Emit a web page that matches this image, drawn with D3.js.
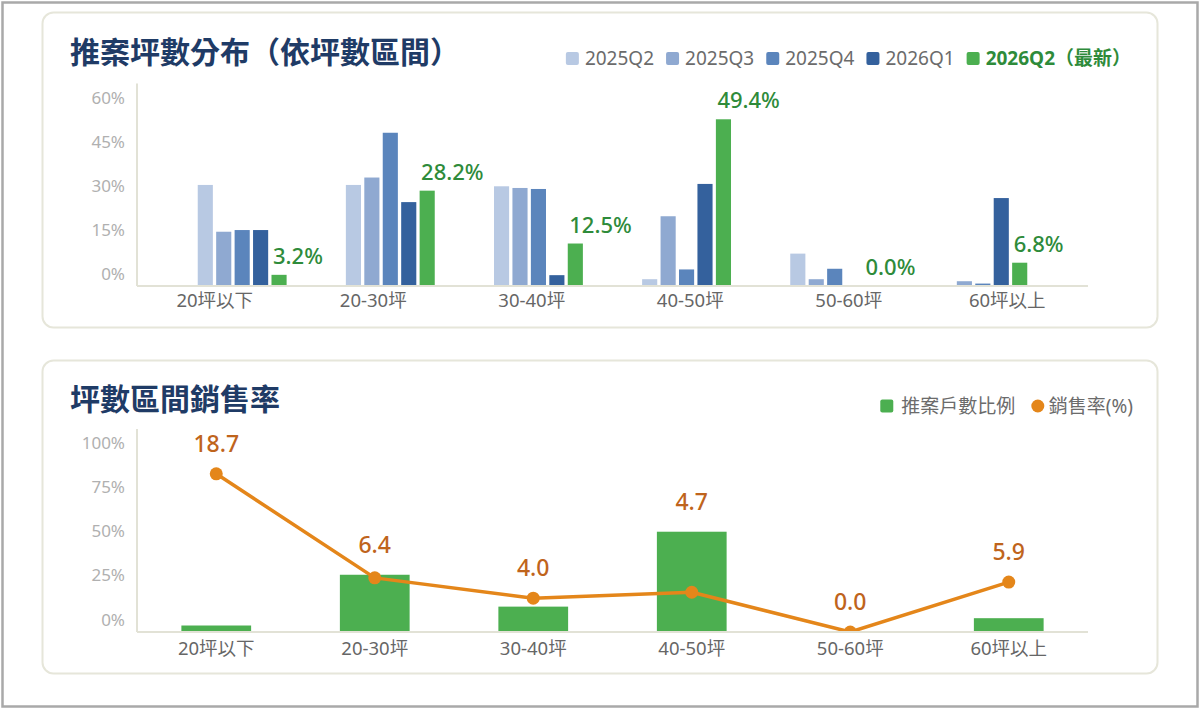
<!DOCTYPE html>
<html>
<head>
<meta charset="utf-8">
<script src="https://cdn.jsdelivr.net/npm/d3@7"></script>
<style>
  body { margin: 0; background: #fff; }
  text { font-family: "Noto Sans", "Noto Sans CJK TC", sans-serif; }
</style>
</head>
<body>
<div id="chart"></div>
<script>
// categories and series
const categories = ["20坪以下", "20-30坪", "30-40坪", "40-50坪", "50-60坪", "60坪以上"];
const seriesNames = ["2025Q2", "2025Q3", "2025Q4", "2026Q1", "2026Q2（最新）"];
const share2025Q2 = [29.9, 29.9, 29.5, 1.9, 9.5, 0.0];
const share2025Q3 = [16.0, 32.1, 29.0, 20.6, 1.9, 1.3];
const share2025Q4 = [16.5, 45.4, 28.7, 4.8, 5.0, 0.6];
const share2026Q1 = [16.5, 24.8, 3.1, 30.2, 0.0, 26.0];
const share2026Q2 = [3.2, 28.2, 12.5, 49.4, 0.0, 6.8];
const salesRate = [18.7, 6.4, 4.0, 4.7, 0.0, 5.9];
const topTicks = ["60%", "45%", "30%", "15%", "0%"];
const bottomTicks = ["100%", "75%", "50%", "25%", "0%"];

const seriesValues = [share2025Q2, share2025Q3, share2025Q4, share2026Q1, share2026Q2];
const seriesColors = ["#b8c9e3", "#8fa9d1", "#5b85bc", "#34619d", "#4caf50"];

const width = 1200, height = 709;
const svg = d3.select("#chart").append("svg")
  .attr("width", width).attr("height", height);

// outer frame + two cards
svg.append("rect")
  .attr("x", 2.5).attr("y", 2.5).attr("width", width - 5).attr("height", height - 5)
  .attr("fill", "#fff").attr("stroke", "#a9a9a9").attr("stroke-width", 2.5);

function card(y, h) {
  svg.append("rect")
    .attr("x", 42.5).attr("y", y).attr("width", 1115).attr("height", h)
    .attr("rx", 11).attr("fill", "#fff")
    .attr("stroke", "#e6e6da").attr("stroke-width", 2);
}
card(12.5, 315);
card(360.5, 313);

const titleColor = "#1f3b66";
const plotLeft = 137, plotRight = 1088;

////////////////////////////////////////////////////////////////////////
// Top chart: grouped bars

svg.append("text")
  .attr("x", 70).attr("y", 51)
  .attr("dominant-baseline", "central")
  .attr("font-size", 30).attr("font-weight", 700)
  .attr("fill", titleColor)
  .text("推案坪數分布（依坪數區間）");

const topY = { y0: 285.6, y1: 83.6 };

let xLabel = d3.scaleBand().domain(categories).range([plotLeft, plotRight]);
let xGroup = d3.scaleBand().domain(categories).range([plotLeft, plotRight])
  .paddingInner(0.4).paddingOuter(0.41);
let xSeries = d3.scaleBand().domain(seriesNames).range([0, xGroup.bandwidth()])
  .paddingInner(0.18);
let yTop = d3.scaleLinear().domain([0, 60]).range([topY.y0, topY.y1]);
let yTopLabels = d3.scalePoint().domain(topTicks).range([97, 273]);

let g1 = svg.append("g");

seriesNames.forEach((name, si) => {
  g1.append("g")
    .selectAll("rect")
    .data(categories)
    .enter()
    .append("rect")
    .attr("x", (c) => xGroup(c) + xSeries(name))
    .attr("y", (c, i) => yTop(seriesValues[si][i]))
    .attr("width", xSeries.bandwidth())
    .attr("height", (c, i) => topY.y0 - yTop(seriesValues[si][i]))
    .attr("fill", seriesColors[si]);
});

// value labels for the latest quarter
g1.append("g")
  .selectAll("text")
  .data(categories)
  .enter()
  .append("text")
  .attr("x", (c) => xGroup(c) + xSeries(seriesNames[4]) + 1.5)
  .attr("y", (c, i) => yTop(share2026Q2[i]) - 20)
  .attr("dominant-baseline", "central")
  .attr("font-size", 22).attr("font-weight", 500)
  .attr("fill", "#2e8b3a")
  .text((c, i) => share2026Q2[i].toFixed(1) + "%");

// axes
g1.append("line")
  .attr("x1", plotLeft).attr("x2", plotLeft)
  .attr("y1", topY.y1).attr("y2", 286)
  .attr("stroke", "#e2e2d6").attr("stroke-width", 2);
g1.append("line")
  .attr("x1", plotLeft).attr("x2", plotRight)
  .attr("y1", 286).attr("y2", 286)
  .attr("stroke", "#e2e2d6").attr("stroke-width", 2);

g1.append("g")
  .selectAll("text")
  .data(topTicks)
  .enter()
  .append("text")
  .attr("x", 125).attr("y", (d) => yTopLabels(d))
  .attr("text-anchor", "end").attr("dominant-baseline", "central")
  .attr("font-size", 17).attr("fill", "#b0b0b0")
  .text((d) => d);

g1.append("g")
  .selectAll("text")
  .data(categories)
  .enter()
  .append("text")
  .attr("x", (c) => xLabel(c) + xLabel.bandwidth() / 2 - 1.5)
  .attr("y", 299)
  .attr("text-anchor", "middle").attr("dominant-baseline", "central")
  .attr("font-size", 18.5).attr("fill", "#666")
  .text((c) => c);

// legend, right aligned
let legend1 = svg.append("g");
let lx = 1131;
for (let i = seriesNames.length - 1; i >= 0; i--) {
  let latest = i === seriesNames.length - 1;
  let t = legend1.append("text")
    .attr("y", 58).attr("dominant-baseline", "central")
    .attr("font-size", 19)
    .attr("font-weight", latest ? 700 : 400)
    .attr("fill", latest ? "#2e8b3a" : "#6b6b6b")
    .text(seriesNames[i]);
  let tw = t.node().getComputedTextLength();
  t.attr("x", lx - tw);
  legend1.append("rect")
    .attr("x", lx - tw - 19).attr("y", 52)
    .attr("width", 13).attr("height", 13).attr("rx", 2)
    .attr("fill", seriesColors[i]);
  lx = lx - tw - 19 - 12;
}

////////////////////////////////////////////////////////////////////////
// Bottom chart: bars + sales-rate line

svg.append("text")
  .attr("x", 70).attr("y", 398)
  .attr("dominant-baseline", "central")
  .attr("font-size", 30).attr("font-weight", 700)
  .attr("fill", titleColor)
  .text("坪數區間銷售率");

const botY = { y0: 632, y1: 429 };
let xBot = d3.scaleBand().domain(categories).range([plotLeft, plotRight])
  .paddingInner(0.56).paddingOuter(0.28);
let yBot = d3.scaleLinear().domain([0, 100]).range([botY.y0, botY.y1]);
let yRate = d3.scaleLinear().domain([0, 24]).range([botY.y0, botY.y1]);
let yBotLabels = d3.scalePoint().domain(bottomTicks).range([442, 619]);

let g2 = svg.append("g");

g2.append("clipPath").attr("id", "plotClip")
  .append("rect").attr("x", plotLeft).attr("y", 400)
  .attr("width", plotRight - plotLeft).attr("height", botY.y0 + 1 - 400);

g2.append("g")
  .selectAll("rect")
  .data(categories)
  .enter()
  .append("rect")
  .attr("x", (c) => xBot(c))
  .attr("y", (c, i) => yBot(share2026Q2[i]))
  .attr("width", xBot.bandwidth())
  .attr("height", (c, i) => botY.y0 - yBot(share2026Q2[i]))
  .attr("fill", "#4caf50");

let cx = (c) => xBot(c) + xBot.bandwidth() / 2;

let line = d3.line()
  .x((d, i) => cx(categories[i]))
  .y((d) => yRate(d));

let lineG = g2.append("g").attr("clip-path", "url(#plotClip)");
lineG.append("path")
  .datum(salesRate)
  .attr("d", line)
  .attr("fill", "none")
  .attr("stroke", "#e4861a").attr("stroke-width", 3.5)
  .attr("stroke-linejoin", "round");
lineG.selectAll("circle")
  .data(salesRate)
  .enter()
  .append("circle")
  .attr("cx", (d, i) => cx(categories[i]))
  .attr("cy", (d) => yRate(d))
  .attr("r", 6.5)
  .attr("fill", "#e4861a");

g2.append("g")
  .selectAll("text")
  .data(salesRate)
  .enter()
  .append("text")
  .attr("x", (d, i) => cx(categories[i]))
  .attr("y", (d, i) => Math.min(yRate(d), yBot(share2026Q2[i])) - 31)
  .attr("text-anchor", "middle").attr("dominant-baseline", "central")
  .attr("font-size", 23).attr("font-weight", 500)
  .attr("fill", "#bf641c")
  .text((d) => d.toFixed(1));

g2.append("line")
  .attr("x1", plotLeft).attr("x2", plotLeft)
  .attr("y1", botY.y1).attr("y2", botY.y0)
  .attr("stroke", "#e2e2d6").attr("stroke-width", 2);
g2.append("line")
  .attr("x1", plotLeft).attr("x2", plotRight)
  .attr("y1", botY.y0).attr("y2", botY.y0)
  .attr("stroke", "#e2e2d6").attr("stroke-width", 2);

g2.append("g")
  .selectAll("text")
  .data(bottomTicks)
  .enter()
  .append("text")
  .attr("x", 125).attr("y", (d) => yBotLabels(d))
  .attr("text-anchor", "end").attr("dominant-baseline", "central")
  .attr("font-size", 17).attr("fill", "#b0b0b0")
  .text((d) => d);

g2.append("g")
  .selectAll("text")
  .data(categories)
  .enter()
  .append("text")
  .attr("x", (c) => cx(c))
  .attr("y", 647)
  .attr("text-anchor", "middle").attr("dominant-baseline", "central")
  .attr("font-size", 18.5).attr("fill", "#666")
  .text((c) => c);

// bottom legend
let legend2 = svg.append("g");
let t2 = legend2.append("text")
  .attr("y", 406).attr("dominant-baseline", "central")
  .attr("font-size", 19).attr("fill", "#6b6b6b")
  .text("銷售率(%)");
let w2 = t2.node().getComputedTextLength();
t2.attr("x", 1133 - w2);
legend2.append("circle")
  .attr("cx", 1133 - w2 - 11).attr("cy", 406).attr("r", 6.5)
  .attr("fill", "#e4861a");
let t1 = legend2.append("text")
  .attr("y", 406).attr("dominant-baseline", "central")
  .attr("font-size", 19).attr("fill", "#6b6b6b")
  .text("推案戶數比例");
let w1 = t1.node().getComputedTextLength();
let x1 = 1133 - w2 - 11 - 6.5 - 16 - w1;
t1.attr("x", x1);
legend2.append("rect")
  .attr("x", x1 - 21).attr("y", 399.5)
  .attr("width", 13).attr("height", 13).attr("rx", 2)
  .attr("fill", "#4caf50");
</script>
</body>
</html>
